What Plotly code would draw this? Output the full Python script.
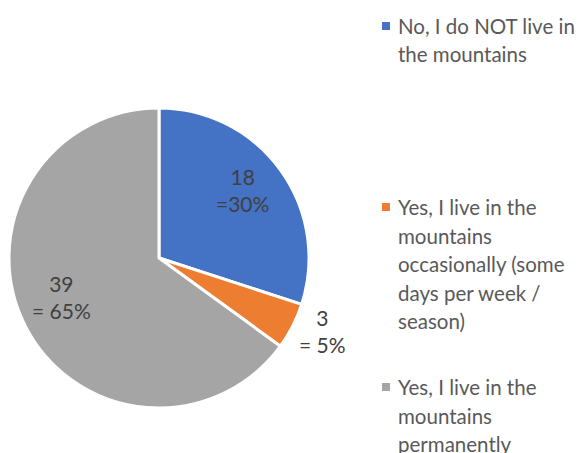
import math
import plotly.graph_objects as go

categories = [
    "No, I do NOT live in<br>the mountains",
    "Yes, I live in the<br>mountains<br>occasionally (some<br>days per week /<br>season)",
    "Yes, I live in the<br>mountains<br>permanently",
]
values = [18, 3, 39]
slice_labels = ["18<br>=30%", "3<br>= 5%", "39<br>= 65%"]
colors = ["#4472C4", "#ED7D31", "#A5A5A5"]

W, H = 588, 453
OFF = 8  # page body margin offset
FONT = "Lato, Carlito, Calibri, sans-serif"

# pie geometry (page pixels)
cx, cy, R = 159, 258, 150
px0, py0 = cx - OFF, cy - OFF

fig = go.Figure()
fig.add_trace(go.Pie(
    labels=categories,
    values=values,
    textinfo="none",
    sort=False,
    direction="clockwise",
    rotation=0,
    marker=dict(colors=colors, line=dict(color="white", width=3)),
    showlegend=False,
    hoverinfo="label+value+percent",
    domain=dict(x=[(px0 - R) / W, (px0 + R) / W],
                y=[1 - (py0 + R) / H, 1 - (py0 - R) / H]),
))

# data labels placed at the slice mid-angles
label_r = [0.72, 1.19, 0.70]
label_da = [-3, -3, 5]
total = sum(values)
cum = 0
for v, txt, rf, da in zip(values, slice_labels, label_r, label_da):
    mid = (cum + v / 2) / total * 360 + da
    cum += v
    lx = px0 + rf * R * math.sin(math.radians(mid))
    ly = py0 - rf * R * math.cos(math.radians(mid))
    fig.add_annotation(text=txt, xref="paper", yref="paper",
                       x=lx / W, y=1 - ly / H, xanchor="center", yanchor="middle",
                       showarrow=False, align="center",
                       font=dict(family=FONT, size=21, color="#404040"))

# legend drawn manually to match spacing
item_tops = [26, 207, 387]
line_h = 28.5
for cat, col, top in zip(categories, colors, item_tops):
    t = top - OFF
    fig.add_shape(type="rect", xref="paper", yref="paper",
                  x0=(382 - OFF) / W, x1=(390 - OFF) / W,
                  y0=1 - (t + 4) / H, y1=1 - (t - 4) / H,
                  fillcolor=col, line=dict(width=0))
    for i, line in enumerate(cat.split("<br>")):
        fig.add_annotation(text=line, xref="paper", yref="paper",
                           x=(398 - OFF - 2) / W, y=1 - (t + i * line_h) / H,
                           xanchor="left", yanchor="middle", showarrow=False,
                           font=dict(family=FONT, size=20.5, color="#595959"))

fig.update_layout(
    width=W, height=H,
    margin=dict(l=0, r=0, t=0, b=0),
    paper_bgcolor="white",
    plot_bgcolor="white",
    font=dict(family=FONT),
)

fig.write_html("out.html")
